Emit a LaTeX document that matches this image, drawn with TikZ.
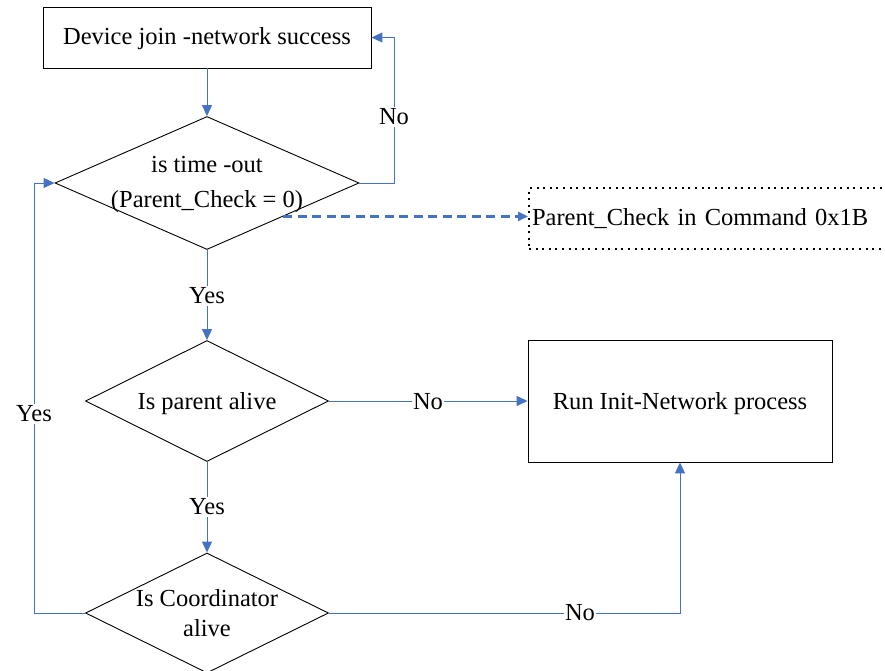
\documentclass[tikz,border=0pt]{standalone}
\usepackage{fontspec}
\setmainfont{Liberation Serif}
\usetikzlibrary{shapes.geometric,arrows.meta}
\definecolor{flowblue}{HTML}{4472C4}
\tikzset{
  txt/.style={font=\fontsize{24.5}{30}\selectfont},
  box/.style={draw=black, line width=0.9pt, inner sep=0pt},
  dia/.style={diamond, draw=black, line width=0.9pt, inner sep=0pt, aspect=2},
  dotbox/.style={draw=black, line width=2pt, dash pattern=on 2pt off 4.6pt, inner xsep=3pt, inner ysep=0pt, txt},
  conn/.style={draw=flowblue, line width=1pt, -{Triangle[length=11pt,width=10pt]}},
  dashconn/.style={draw=flowblue, line width=2.4pt, dash pattern=on 9pt off 5.5pt, -{Triangle[length=10pt,width=9pt]}},
  lbl/.style={fill=white, inner sep=1.5pt, txt}
}
\begin{document}
\begin{tikzpicture}[x=1pt,y=-1pt]
  \useasboundingbox (0,0) rectangle (885,671);
  \clip (0,0) rectangle (885,671);

  % boxes and decisions, each with its caption
  \node[box, minimum width=328pt, minimum height=61pt] (top) at (207,37.5) {};
  \node[txt] (topt) at (207,38.5) {Device join -network success};
  \node[dia, minimum width=304pt, minimum height=133pt] (d1) at (207,183) {};
  \node[txt, align=center, font=\fontsize{24.5}{35}\selectfont] (d1t) at (207,184.5) {is time -out\\(Parent\_Check = 0)};
  \node[dotbox, minimum height=61pt, text width=361pt, align=left, anchor=west] (pc) at (528,218.5) {Parent\_Check in Command 0x1B};
  \node[dia, minimum width=243pt, minimum height=121pt] (d2) at (207,401) {};
  \node[txt] (d2t) at (207,403.5) {Is parent alive};
  \node[box, minimum width=304pt, minimum height=122pt] (run) at (680,401) {};
  \node[txt] (runt) at (680,403.5) {Run Init-Network process};
  \node[dia, minimum width=243pt, minimum height=120pt] (d3) at (207,613) {};
  \node[txt, align=center, font=\fontsize{24.5}{30}\selectfont] (d3t) at (207,613) {Is Coordinator\\alive};

  % connectors
  \draw[conn] (top.south) -- (d1.north);
  \coordinate (noturn) at (394,183);
  \draw[conn] (d1.east) -- (noturn) |- (top.east);
  \node[lbl] (nolbl1) at (394,117) {No};

  \draw[dashconn] (d1.south east) -- (d1.south east -| pc.west);

  \draw[conn] (d1.south) -- (d2.north);
  \node[lbl] (yeslbl1) at (207,296) {Yes};

  \draw[conn] (d2.east) -- (run.west);
  \node[lbl] (nolbl2) at (428,402) {No};

  \draw[conn] (d2.south) -- (d3.north);
  \node[lbl] (yeslbl2) at (207,507) {Yes};

  \draw[conn] (d3.east) -| (run.south);
  \node[lbl] (nolbl3) at (580,613) {No};

  \coordinate (yesturn) at (34,613);
  \draw[conn] (d3.west) -- (yesturn) |- (d1.west);
  \node[lbl] (yeslbl3) at (34,414) {Yes};
\end{tikzpicture}
\end{document}
